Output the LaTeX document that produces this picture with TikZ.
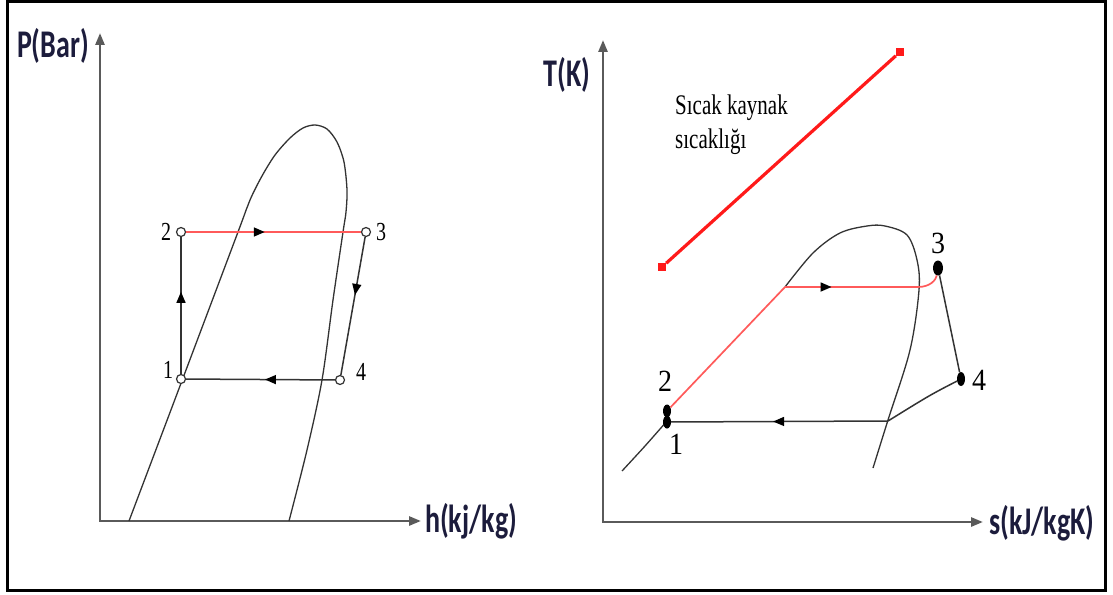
\documentclass[tikz,border=0pt]{standalone}
\usepackage{fontspec}
\setmainfont{Liberation Serif}
\newfontfamily\lblfont{Carlito}
\usetikzlibrary{arrows.meta,decorations.markings,shapes.geometric}
\definecolor{axisgray}{HTML}{5A5A5A}
\definecolor{lblnavy}{HTML}{1C1C3C}
\definecolor{cycredc}{HTML}{FF5A5A}
\definecolor{hotred}{HTML}{FF1A1A}
\definecolor{curvegray}{HTML}{333333}
\tikzset{
  axisline/.style={draw=axisgray, line width=2.6pt, line join=miter,
    {Triangle[length=12pt,width=9pt]}-{Triangle[length=12pt,width=9pt]}},
  dome/.style={draw=curvegray, line width=1.3pt},
  cycblack/.style={draw=curvegray, line width=1.5pt},
  cycred/.style={draw=cycredc, line width=1.7pt},
  hotline/.style={draw=hotred, line width=3.2pt},
  opencirc/.style={circle, draw=curvegray, fill=white, line width=1.2pt, minimum size=9pt, inner sep=0pt},
  bigdot/.style={ellipse, fill=black, minimum width=8pt, minimum height=13pt, inner sep=0pt},
  hotend/.style={rectangle, fill=hotred, minimum size=8pt, inner sep=0pt},
  midarrow/.style={postaction={decorate}, decoration={markings,
    mark=at position #1 with {\arrow{Triangle[length=11pt,width=9pt,color=black]}}}},
  axislabel/.style={text=lblnavy, font=\fontsize{28}{30}\lblfont\bfseries\selectfont, inner sep=0pt},
  smalldigit/.style={font=\fontsize{20}{22}\selectfont, inner sep=0pt},
  bigdigit/.style={font=\fontsize{28}{30}\selectfont, inner sep=0pt},
  notetext/.style={font=\fontsize{21}{24}\selectfont, inner sep=0pt, anchor=west},
}
\begin{document}
\begin{tikzpicture}[x=1pt,y=-1pt]
\useasboundingbox (0,0) rectangle (1113,594);
\fill[white] (0,0) rectangle (1113,594);
\draw[line width=3pt, black] (7,2) rectangle (1105,590);

% ---------- Left diagram ----------
\coordinate (LO) at (100,521);
\coordinate (LY) at (100,33);
\coordinate (LX) at (421,521);
\draw[axisline] (LY) -- (LO) -- (LX);
\node[axislabel] (LPlab) at (53,46) {\scalebox{1}[1.4]{P(Bar)}};
\node[axislabel, anchor=west] (LHlab) at (425,521) {\scalebox{1}[1.4]{h(kj/kg)}};

\draw[dome] plot[smooth, tension=0.5] coordinates {(129,521) (183,378) (238,232) (250,200) (262,176) (275,155) (290,138) (303,128) (315,125) (327,129) (337,142) (344,162) (347,190) (346,212) (343,232) (333,300) (322,380) (307,450) (289,521)};

\node[opencirc] (L2) at (181,232) {};
\node[opencirc] (L3) at (366,232) {};
\node[opencirc] (L1) at (181,379) {};
\node[opencirc] (L4) at (340,380) {};
\draw[cycred, midarrow=0.45] (L2) -- (L3);
\draw[cycblack, midarrow=0.6] (L1) -- (L2);
\draw[cycblack, midarrow=0.42] (L3) -- (L4);
\draw[cycblack, midarrow=0.47] (L4) -- (L1);

\node[smalldigit] (L2lab) at (166,232) {\scalebox{1}[1.3]{2}};
\node[smalldigit] (L3lab) at (381,232) {\scalebox{1}[1.3]{3}};
\node[smalldigit] (L1lab) at (168,370) {\scalebox{1}[1.3]{1}};
\node[smalldigit] (L4lab) at (361,372) {\scalebox{1}[1.3]{4}};

% ---------- Right diagram ----------
\coordinate (RO) at (603,522);
\coordinate (RY) at (603,40);
\coordinate (RX) at (983,522);
\draw[axisline] (RY) -- (RO) -- (RX);
\node[axislabel] (RTlab) at (567,75) {\scalebox{1}[1.4]{T(K)}};
\node[axislabel, anchor=west] (RSlab) at (989,523) {\scalebox{1}[1.4]{s(kJ/kgK)}};

\node[hotend] (HA) at (662,267) {};
\node[hotend] (HB) at (900,52) {};
\draw[hotline] (HA) -- (HB);
\node[notetext] (note1) at (675,108) {\scalebox{1}[1.35]{Sıcak kaynak}};
\node[notetext] (note2) at (675,142) {\scalebox{1}[1.35]{sıcaklığı}};

\draw[dome] plot[smooth, tension=0.55] coordinates {(622,471) (645,446) (667,421)};
\draw[dome] plot[smooth, tension=0.55] coordinates {(785,287) (813,253) (840,233) (867,226) (885,226) (907,235) (917,260) (919,290) (910,350) (888,420) (873,468)};

\node[bigdot] (R2) at (667,411) {};
\node[bigdot] (R1) at (667,422) {};
\node[bigdot, minimum width=10pt, minimum height=15pt] (R3) at (938,268) {};
\node[bigdot, minimum height=14pt] (R4) at (961,379) {};
\coordinate (RA) at (785,287);
\coordinate (RB) at (918,287);
\coordinate (RC) at (888,421);

\draw[cycred] (R2) -- (RA);
\draw[cycred, midarrow=0.35] (RA) -- (RB);
\draw[cycred] (RB) .. controls (930,287) and (936,280) .. (R3);
\draw[cycblack] (R3) -- (R4);
\draw[cycblack] (R4) .. controls (930,395) .. (RC);
\draw[cycblack, midarrow=0.53] (RC) -- (R1);

\node[bigdigit] (R3lab) at (938,243) {\scalebox{1}[1.1]{3}};
\node[bigdigit] (R4lab) at (979,380) {\scalebox{1}[1.1]{4}};
\node[bigdigit] (R2lab) at (665,381) {\scalebox{1}[1.1]{2}};
\node[bigdigit] (R1lab) at (676,444) {\scalebox{1}[1.1]{1}};
\end{tikzpicture}
\end{document}
